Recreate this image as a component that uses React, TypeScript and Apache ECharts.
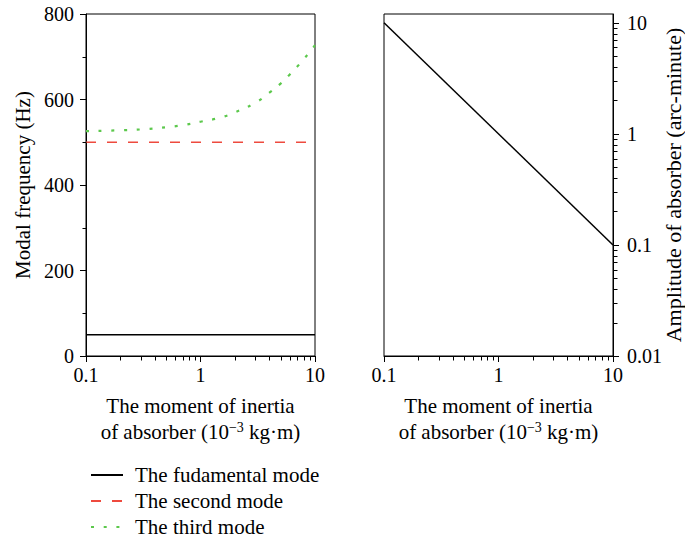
import React, { useEffect, useRef } from "react";
import * as echarts from "echarts";

const FONT = "'Liberation Serif', 'DejaVu Serif', serif";

const inertiaEnds = [0.1, 10];
const fundamentalMode = [50, 50];
const secondMode = [500, 500];
const thirdInertia = [0.1, 0.2, 0.3, 0.5, 0.7, 1, 1.5, 2, 3, 4, 5, 6, 7, 8, 9, 10];
const thirdMode = [526, 528, 530, 535, 540, 548, 558, 570, 592, 616, 637, 658, 677, 695, 711, 727];
const amplitudeInertia = [0.1, 10];
const amplitude = [10, 0.1];

const xMajorTicks = [0.1, 1, 10];
const xMinorTicks = [0.2, 0.3, 0.4, 0.5, 0.6, 0.7, 0.8, 0.9, 2, 3, 4, 5, 6, 7, 8, 9];
const freqMinorTicks = [100, 300, 500, 700];
const ampMajorTicks = [0.01, 0.1, 1, 10];
const ampMinorTicks = [
  0.02, 0.03, 0.04, 0.05, 0.06, 0.07, 0.08, 0.09,
  0.2, 0.3, 0.4, 0.5, 0.6, 0.7, 0.8, 0.9,
  2, 3, 4, 5, 6, 7, 8, 9,
];

const legendNames = ["The fudamental mode", "The second mode", "The third mode"];

const fmt = (v: number) => String(Number(Number(v).toPrecision(6)));

const xName = "{a|The moment of inertia}\n{a|of absorber (10}{s|\u22123}{a| kg\u00b7m)}";
const nameRich = {
  a: { fontSize: 21, lineHeight: 26, fontFamily: FONT, color: "#000" },
  s: { fontSize: 14, lineHeight: 26, fontFamily: FONT, color: "#000", padding: [0, 0, 9, 0] },
};

function majorX(gridIndex: number) {
  return {
    type: "log",
    gridIndex,
    position: "bottom",
    min: 0.1,
    max: 10,
    logBase: 10,
    axisLine: { show: true, onZero: false, lineStyle: { color: "#000", width: 1 } },
    axisTick: { show: true, length: 6, customValues: xMajorTicks, lineStyle: { color: "#000" } },
    axisLabel: {
      customValues: xMajorTicks,
      formatter: fmt,
      fontSize: 20,
      fontFamily: FONT,
      color: "#000",
      margin: 9,
    },
    splitLine: { show: false },
    name: xName,
    nameLocation: "middle",
    nameGap: 37,
    nameMoveOverlap: false,
    nameTextStyle: { rich: nameRich, fontSize: 21, fontFamily: FONT, color: "#000" },
  };
}

// minor ticks drawn as short segments anchored at data coordinates on the axes
function tickSeries(xAxisIndex: number, yAxisIndex: number, pts: number[][], dx: number, dy: number) {
  return {
    type: "custom",
    xAxisIndex,
    yAxisIndex,
    data: pts,
    silent: true,
    clip: false,
    z: 5,
    renderItem: (_params: any, api: any) => {
      const p = api.coord([api.value(0), api.value(1)]);
      const x = Math.round(p[0]) + 0.5;
      const y = Math.round(p[1]) + 0.5;
      return {
        type: "line",
        shape: { x1: x, y1: y, x2: x + dx, y2: y + dy },
        style: { stroke: "#000", lineWidth: 1 },
      };
    },
  };
}

export default function App() {
  const ref = useRef<HTMLDivElement>(null);
  useEffect(() => {
    if (!ref.current) return;
    document.body.style.margin = "0";
    const chart = echarts.init(ref.current, undefined, { renderer: "svg" });
    const option: any = {
      animation: false,
      backgroundColor: "#fff",
      textStyle: { fontFamily: FONT },
      grid: [
        { left: 86, top: 14, width: 229, height: 342, outerBoundsMode: "none", containLabel: false, show: true, borderColor: "#000", borderWidth: 1, backgroundColor: "transparent" },
        { left: 384, top: 14, width: 229, height: 342, outerBoundsMode: "none", containLabel: false, show: true, borderColor: "#000", borderWidth: 1, backgroundColor: "transparent" },
      ],
      legend: {
        data: legendNames,
        orient: "vertical",
        left: 90,
        top: 464,
        height: 100,
        padding: 0,
        itemWidth: 32,
        itemHeight: 14,
        itemGap: 4,
        itemStyle: { opacity: 0 },
        textStyle: { fontSize: 21, fontFamily: FONT, color: "#000", lineHeight: 22, padding: [0, 0, 0, 7] },
      },
      xAxis: [majorX(0), majorX(1)],
      yAxis: [
        {
          type: "value",
          gridIndex: 0,
          min: 0,
          max: 800,
          interval: 200,
          axisLine: { show: true, lineStyle: { color: "#000", width: 1 } },
          axisTick: { show: true, length: 6, lineStyle: { color: "#000" } },
          axisLabel: { fontSize: 20, fontFamily: FONT, color: "#000", margin: 12 },
          splitLine: { show: false },
          name: "Modal frequency (Hz)",
          nameLocation: "middle",
          nameRotate: 90,
          nameGap: 53,
          nameMoveOverlap: false,
          nameTextStyle: { fontSize: 21, fontFamily: FONT, color: "#000" },
        },
        {
          type: "log",
          gridIndex: 1,
          position: "right",
          min: 0.01,
          max: 12,
          logBase: 10,
          axisLine: { show: true, lineStyle: { color: "#000", width: 1 } },
          axisTick: { show: true, length: 6, customValues: ampMajorTicks, lineStyle: { color: "#000" } },
          axisLabel: {
            customValues: ampMajorTicks,
            formatter: fmt,
            fontSize: 20,
            fontFamily: FONT,
            color: "#000",
            margin: 14,
          },
          splitLine: { show: false },
          name: "Amplitude of absorber (arc-minute)",
          nameLocation: "middle",
          nameRotate: 90,
          nameGap: 49,
          nameMoveOverlap: false,
          nameTextStyle: { fontSize: 22, lineHeight: 22, fontFamily: FONT, color: "#000" },
        },
      ],
      series: [
        {
          name: legendNames[0],
          type: "line",
          xAxisIndex: 0,
          yAxisIndex: 0,
          data: inertiaEnds.map((x, i) => [x, fundamentalMode[i]]),
          symbol: "none",
          lineStyle: { color: "#000", width: 1.5, type: "solid" },
          itemStyle: { color: "#000" },
        },
        {
          name: legendNames[1],
          type: "line",
          xAxisIndex: 0,
          yAxisIndex: 0,
          data: inertiaEnds.map((x, i) => [x, secondMode[i]]),
          symbol: "none",
          lineStyle: { color: "#ee4a3e", width: 1.6, type: [10, 11] },
          itemStyle: { color: "#ee4a3e" },
        },
        {
          name: legendNames[2],
          type: "line",
          xAxisIndex: 0,
          yAxisIndex: 0,
          data: thirdInertia.map((x, i) => [x, thirdMode[i]]),
          symbol: "none",
          smooth: true,
          lineStyle: { color: "#5cc84c", width: 2.2, type: [3, 9.7] },
          itemStyle: { color: "#5cc84c" },
        },
        {
          name: "Amplitude",
          type: "line",
          xAxisIndex: 1,
          yAxisIndex: 1,
          data: amplitudeInertia.map((x, i) => [x, amplitude[i]]),
          symbol: "none",
          lineStyle: { color: "#000", width: 1.5 },
        },
        tickSeries(0, 0, xMinorTicks.map((v) => [v, 0]), 0, 4),
        tickSeries(0, 0, freqMinorTicks.map((v) => [0.1, v]), -4, 0),
        tickSeries(1, 1, xMinorTicks.map((v) => [v, 0.01]), 0, 4),
        tickSeries(1, 1, ampMinorTicks.map((v) => [10, v]), 4, 0),
      ],
    };
    chart.setOption(option);
    return () => chart.dispose();
  }, []);
  return <div ref={ref} style={{ width: 685, height: 542 }} />;
}
